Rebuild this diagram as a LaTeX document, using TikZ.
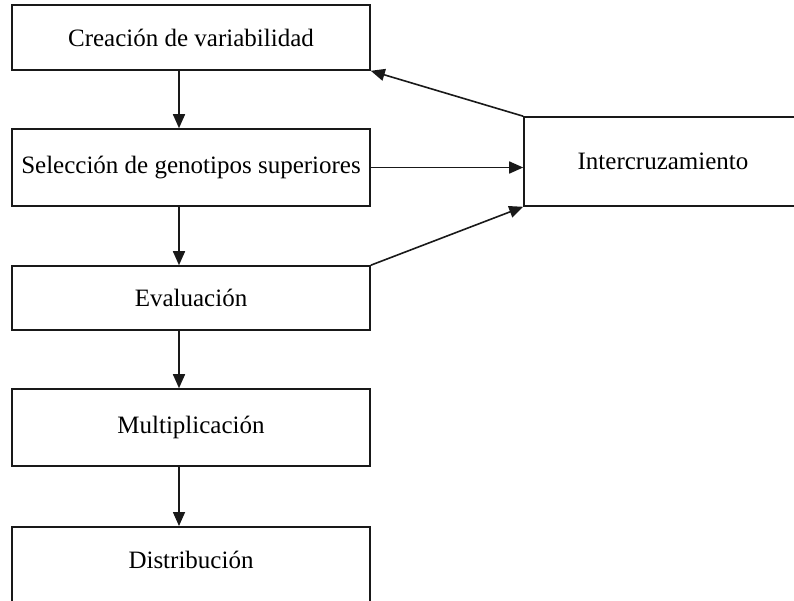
\documentclass[tikz,border=0pt]{standalone}
\usepackage{fontspec}
\setmainfont{Liberation Serif}
\usetikzlibrary{arrows.meta}
\begin{document}
\begin{tikzpicture}[x=1pt,y=-1pt,
  box/.style={draw=black!90,line width=1.6pt,rectangle,inner sep=0pt,
    minimum width=358pt,font=\fontsize{25}{30}\selectfont},
  conn/.style={draw=black!90,line width=1.6pt,-{Triangle[length=14pt,width=12pt]}},
  lbl/.style={inner sep=0pt,font=\fontsize{25}{30}\selectfont}]
\useasboundingbox (0,0) rectangle (794,600);
\clip (0,0) rectangle (794,600);
\fill[white] (0,0) rectangle (794,600);
\node[box,minimum height=65pt] (a) at (191,37.5) {Creación de variabilidad};
\node[box,minimum height=77pt] (b) at (191,167.5) {Selección de genotipos superiores};
\node[box,minimum height=64pt] (c) at (191,298) {Evaluación};
\node[box,minimum height=77pt] (d) at (191,427.5) {Multiplicación};
\node[box,minimum height=90pt,anchor=north] (e) at (191,526) {};
\node[lbl] (et) at (191,560) {Distribución};
\node[box,minimum width=278pt,minimum height=89pt] (f) at (663,161.5) {Intercruzamiento};
\draw[conn] ([xshift=-12pt]a.south) -- ([xshift=-12pt]b.north);
\draw[conn] ([xshift=-12pt]b.south) -- ([xshift=-12pt]c.north);
\draw[conn] ([xshift=-12pt]c.south) -- ([xshift=-12pt]d.north);
\draw[conn] ([xshift=-12pt]d.south) -- ([xshift=-12pt]e.north);
\draw[conn] (b.east) -- (b.east -| f.west);
\draw[conn] (c.north east) -- (f.south west);
\draw[conn] (f.north west) -- (a.south east);
\end{tikzpicture}
\end{document}
